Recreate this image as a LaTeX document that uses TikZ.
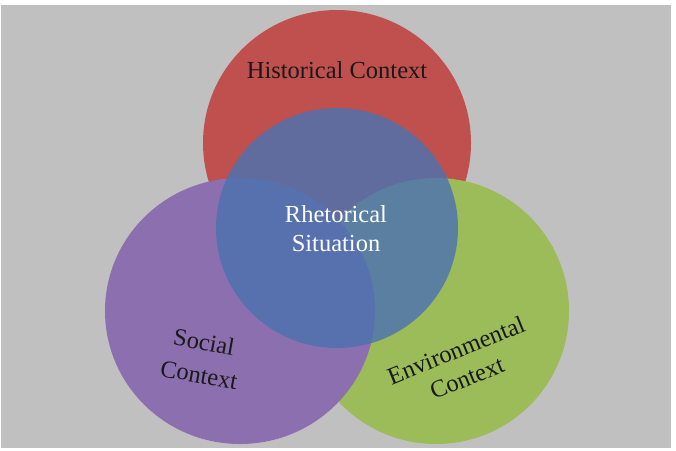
\documentclass[tikz,border=0pt]{standalone}
\usepackage{fontspec}
\setmainfont{Liberation Serif}
\usetikzlibrary{shapes, positioning}

\definecolor{bggray}{RGB}{192,192,192}
\definecolor{histred}{RGB}{192,80,77}
\definecolor{socpurple}{RGB}{139,111,175}
\definecolor{envgreen}{RGB}{156,187,89}
\definecolor{rhetblue}{RGB}{76,114,176}

\begin{document}
\begin{tikzpicture}[
        x=1pt, y=-1pt,
        blob/.style={ellipse, draw=none, inner sep=0pt},
        label/.style={font=\fontsize{24.5}{29}\selectfont, align=center, text=black!90, inner sep=1pt},
        core/.style={blob, fill=rhetblue, fill opacity=0.82}
    ]

    % Background
    \fill[white] (0,0) rectangle (676,450);
    \fill[bggray] (1,5) rectangle (671,448);

    % Context circles
    \node[blob, fill=histred, minimum width=268pt, minimum height=266pt] (hist) at (337,143) {};
    \node[blob, fill=envgreen, minimum width=266pt, minimum height=266pt] (env) at (436,311) {};
    \node[blob, fill=socpurple, minimum width=270pt, minimum height=266pt] (soc) at (240,311) {};

    % Rhetorical situation (on top)
    \node[core, minimum width=242pt, minimum height=240pt] (rhet) at (337,228) {};

    % Labels
    \node[label] (histtext) at (337,70) {Historical Context};
    \node[label, text=white, text opacity=1] (rhettext) at (336,229) {Rhetorical\\Situation};
    \node[label, rotate=-10] (soctext1) at (204,342) {Social};
    \node[label, rotate=-10] (soctext2) at (199,375) {Context};
    \node[label, rotate=22] (envtext1) at (456,350) {Environmental};
    \node[label, rotate=22] (envtext2) at (467,378) {Context};

\end{tikzpicture}
\end{document}
